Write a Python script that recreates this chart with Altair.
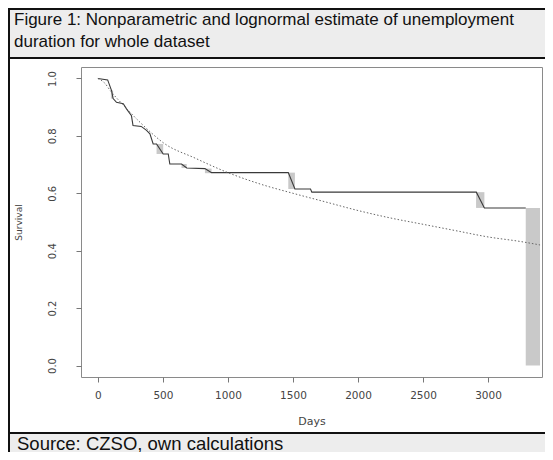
import altair as alt
import pandas as pd

# Kaplan-Meier style path (days, survival)
km_days = [0, 75, 105, 117, 143, 195, 220, 258, 270, 333, 374, 400, 425, 451, 502, 541, 553,
           643, 683, 823, 874, 1464, 1515, 1635, 1645, 2910, 2972, 3290]
km_surv = [1.0, 0.995, 0.958, 0.93, 0.917, 0.912, 0.894, 0.87, 0.836, 0.833, 0.819, 0.807, 0.772,
           0.772, 0.737, 0.737, 0.702, 0.702, 0.688, 0.686, 0.672, 0.672, 0.615, 0.615, 0.604,
           0.604, 0.549, 0.549]

# Lognormal estimate
ln_days = [0, 50, 100, 200, 300, 400, 500, 750, 1000, 1250, 1500, 1750, 2000, 2250, 2500,
           2750, 3000, 3250, 3400]
ln_surv = [1.0, 0.985, 0.955, 0.905, 0.858, 0.815, 0.777, 0.722, 0.672, 0.632, 0.600, 0.570,
           0.540, 0.514, 0.492, 0.470, 0.448, 0.432, 0.420]

# Shaded intervals at drops
sh_x1 = [100, 451, 643, 823, 1464, 2908, 3290]
sh_x2 = [117, 502, 683, 874, 1515, 2972, 3400]
sh_y1 = [0.93, 0.737, 0.688, 0.670, 0.615, 0.549, 0.0]
sh_y2 = [0.958, 0.772, 0.702, 0.686, 0.672, 0.604, 0.549]

x_ticks = [0, 500, 1000, 1500, 2000, 2500, 3000]
y_ticks = [0.0, 0.2, 0.4, 0.6, 0.8, 1.0]

title_lines = ["Figure 1: Nonparametric and lognormal estimate of unemployment",
               "duration for whole dataset"]
source_text = "Source: CZSO, own calculations"

km = pd.DataFrame({"days": km_days, "surv": km_surv, "o": range(len(km_days))})
ln = pd.DataFrame({"days": ln_days, "surv": ln_surv, "o": range(len(ln_days))})
sh = pd.DataFrame({"x1": sh_x1, "x2": sh_x2, "y1": sh_y1, "y2": sh_y2})
one = pd.DataFrame({"a": [0]})

W, H = 461, 310

xscale = alt.Scale(domain=[-130, 3415], nice=False, zero=False)
yscale = alt.Scale(domain=[-0.04, 1.04], nice=False, zero=False)

xaxis = alt.Axis(values=x_ticks, format="d", grid=False, domain=False, tickSize=5,
                 tickColor="#777", labelColor="#444", labelFont="DejaVu Sans",
                 labelFontSize=10.5, labelPadding=8.5, title="Days",
                 titleFont="DejaVu Sans", titleFontSize=11, titleFontWeight="normal",
                 titleColor="#444", titleY=47, titleBaseline="alphabetic")
yaxis = alt.Axis(values=y_ticks, format=".1f", grid=False, domain=False, tickSize=5,
                 tickColor="#777", labelColor="#444", labelFont="DejaVu Sans",
                 labelFontSize=10, labelAngle=270, labelAlign="center",
                 labelBaseline="bottom", labelPadding=19, title="Survival",
                 titleFont="DejaVu Sans", titleFontSize=9, titleFontWeight="normal",
                 titleColor="#444", titleAngle=270, titleX=-60, titleBaseline="alphabetic")

# decorations (frame)
def rect(x1, x2, y1, y2, color):
    return alt.Chart(one).mark_rect(fill=color, stroke=None).encode(
        x=alt.value(x1), x2=alt.value(x2), y=alt.value(y1), y2=alt.value(y2))

header_bg = rect(-72, 470, -59, -10, "#ededed")
footer_bg = rect(-72, 470, 366, 390, "#ededed")
top_border = rect(-73, 470, -59, -57, "#111")
left_border = rect(-73, -71, -59, 390, "#111")
head_div = rect(-73, 470, -10, -8, "#111")
foot_div = rect(-73, 470, 365, 367, "#111")

def text(s, x, y, size=17):
    return alt.Chart(one).mark_text(align="left", baseline="alphabetic",
                                    font="Liberation Sans", fontSize=size,
                                    color="#111").encode(
        x=alt.value(x), y=alt.value(y), text=alt.value(s))

t1 = text(title_lines[0], -67, -42.5, 17)
t2 = text(title_lines[1], -67, -20.5, 17)
t3 = text(source_text, -64, 382.5, 18.5)

shade = alt.Chart(sh).mark_rect(fill="#c9c9c9", stroke=None).encode(
    x=alt.X("x1:Q", scale=xscale, axis=xaxis),
    x2="x2:Q",
    y=alt.Y("y1:Q", scale=yscale, axis=yaxis),
    y2="y2:Q",
)

km_line = alt.Chart(km).mark_line(color="#3a3a3a", strokeWidth=1.1).encode(
    x=alt.X("days:Q", scale=xscale), y=alt.Y("surv:Q", scale=yscale), order="o:Q")

ln_line = alt.Chart(ln).mark_line(color="#666", strokeWidth=1, strokeDash=[1.5, 2],
                                  interpolate="monotone").encode(
    x=alt.X("days:Q", scale=xscale), y=alt.Y("surv:Q", scale=yscale), order="o:Q")

chart = alt.layer(header_bg, footer_bg, top_border, left_border, head_div, foot_div,
                  shade, km_line, ln_line, t1, t2, t3).properties(
    width=W, height=H,
    autosize=alt.AutoSizeParams(type="none"),
    padding={"left": 73, "top": 59, "right": 3, "bottom": 75},
    background="white",
).configure_view(stroke="#8a8a8a", strokeWidth=1)

chart.save("out.html", embed_options={"renderer": "svg", "actions": False})
